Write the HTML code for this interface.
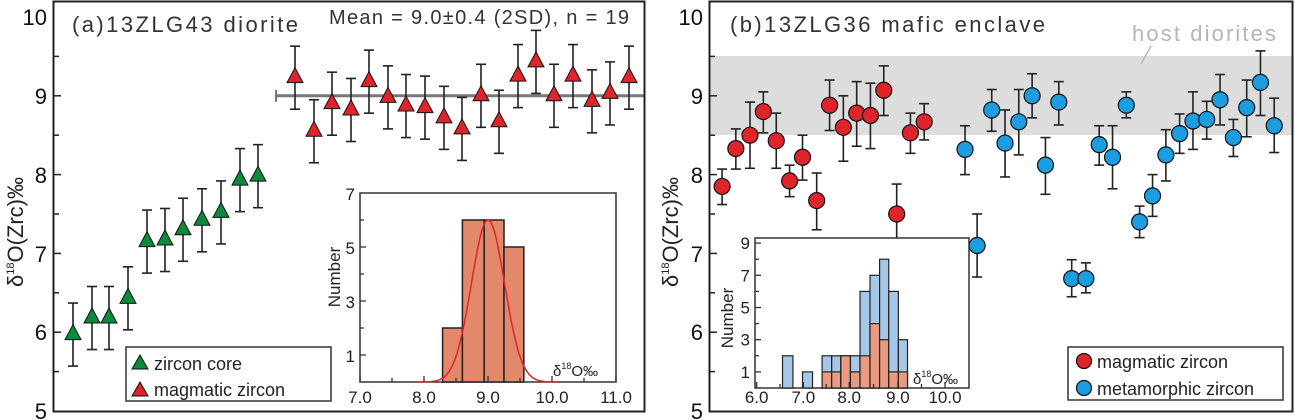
<!DOCTYPE html>
<html><head><meta charset="utf-8"><style>
html,body{margin:0;padding:0;background:#fff;}
svg{display:block;font-family:"Liberation Sans",sans-serif;}
</style></head><body>
<svg id="s" width="1295" height="419" viewBox="0 0 1295 419" xmlns="http://www.w3.org/2000/svg">
<rect width="1295" height="419" fill="#fff"/>
<rect x="710" y="56" width="583" height="79" fill="#dcdddc"/>
<line x1="1151" y1="46" x2="1141" y2="64" stroke="#b8b8b8" stroke-width="1.5"/>
<text x="1132" y="41" font-size="22" fill="#b5b5b5" textLength="144">host diorites</text>
<g id="g"></g>
<rect x="53.5" y="1.5" width="591" height="410" fill="none" stroke="#222" stroke-width="2"/>
<rect x="709.5" y="1.5" width="583" height="410" fill="none" stroke="#222" stroke-width="2"/>
<text x="72" y="32" font-size="22" fill="#333" textLength="226">(a)13ZLG43 diorite</text>
<text x="329" y="24" font-size="20" fill="#333" textLength="300">Mean = 9.0±0.4 (2SD), n = 19</text>
<text x="730" y="32" font-size="22" fill="#333" textLength="315">(b)13ZLG36 mafic enclave</text>
<g font-size="22" fill="#111" text-anchor="end">
<text x="47" y="25">10</text><text x="47" y="104">9</text><text x="47" y="183">8</text><text x="47" y="262">7</text><text x="47" y="340">6</text><text x="47" y="419">5</text>
<text x="703" y="25">10</text><text x="703" y="104">9</text><text x="703" y="183">8</text><text x="703" y="262">7</text><text x="703" y="340">6</text><text x="703" y="419">5</text>
</g>
<text transform="translate(23,232) rotate(-90)" font-size="22" fill="#222" text-anchor="middle">δ<tspan font-size="11" dy="-9">18</tspan><tspan dy="9">O(Zrc)‰</tspan></text>
<text transform="translate(678,232) rotate(-90)" font-size="22" fill="#222" text-anchor="middle">δ<tspan font-size="11" dy="-9">18</tspan><tspan dy="9">O(Zrc)‰</tspan></text>
<rect x="126" y="347" width="205" height="54" fill="#fff" stroke="#333" stroke-width="1.5"/>
<polygon points="140,355 132,369 148,369" fill="#0a8a3c" stroke="#111" stroke-width="1"/>
<polygon points="140,382 132,396 148,396" fill="#e0242b" stroke="#111" stroke-width="1"/>
<text x="154" y="370" font-size="18" fill="#222">zircon core</text>
<text x="154" y="396" font-size="18" fill="#222">magmatic zircon</text>
<rect x="1068" y="347" width="215" height="53" fill="#fff" stroke="#333" stroke-width="1.5"/>
<circle cx="1084" cy="361" r="7.5" fill="#e0242b" stroke="#111" stroke-width="1.2"/>
<circle cx="1084" cy="388" r="7.5" fill="#1b9de0" stroke="#111" stroke-width="1.2"/>
<text x="1097" y="368" font-size="18" fill="#222">magmatic zircon</text>
<text x="1097" y="395" font-size="18" fill="#222">metamorphic zircon</text>
</svg>
<script>
var g=document.getElementById('g'),h='';
function Y(v){return 17+(10-v)*78.8;}
[[54,1],[710,1]].forEach(function(a){for(var v=5.5;v<10;v+=0.5){var w=(v%1==0)?7:5;h+='<line x1="'+a[0]+'" x2="'+(a[0]+w)+'" y1="'+Y(v)+'" y2="'+Y(v)+'" stroke="#222" stroke-width="1.5"/>';}});
function eb(x,lo,hi){h+='<line x1="'+x+'" x2="'+x+'" y1="'+Y(hi)+'" y2="'+Y(lo)+'" stroke="#222" stroke-width="1.6"/><line x1="'+(x-5)+'" x2="'+(x+5)+'" y1="'+Y(hi)+'" y2="'+Y(hi)+'" stroke="#222" stroke-width="1.6"/><line x1="'+(x-5)+'" x2="'+(x+5)+'" y1="'+Y(lo)+'" y2="'+Y(lo)+'" stroke="#222" stroke-width="1.6"/>';}
function tri(x,v,c){var y=Y(v);h+='<polygon points="'+x+','+(y-10)+' '+(x-8)+','+(y+5)+' '+(x+8)+','+(y+5)+'" fill="'+c+'" stroke="#111" stroke-width="1"/>';}
h+='<line x1="276" x2="645" y1="'+Y(9)+'" y2="'+Y(9)+'" stroke="#777" stroke-width="3"/><line x1="276" x2="276" y1="'+(Y(9)-6)+'" y2="'+(Y(9)+6)+'" stroke="#777" stroke-width="2"/>';
var gx=[73,92,109,128,147,165,183,202,221,240,258],gv=[5.97,6.18,6.18,6.43,7.15,7.17,7.3,7.42,7.52,7.93,7.98];
gx.forEach(function(x,i){eb(x,gv[i]-0.4,gv[i]+0.4);tri(x,gv[i],'#0a8a3c');});
var rx=[295,314,332,351,369,388,406,425,444,462,481,499,518,536,554,573,592,610,629],rv=[9.23,8.55,8.9,8.82,9.18,8.98,8.87,8.85,8.72,8.58,9.0,8.67,9.25,9.43,9.0,9.25,8.93,9.03,9.23];
rx.forEach(function(x,i){eb(x,rv[i]-0.4,rv[i]+0.4);tri(x,rv[i],'#e0242b');});
var R=[[185,7.85,7.62,8.07],[218,8.33,8.07,8.58],[252,8.5,8.08,8.92],[284,8.8,8.53,9.05],[315,8.43,8.08,8.78],[347,7.92,7.72,8.12],[378,8.22,7.93,8.5],[412,7.67,7.3,8.02],[443,8.88,8.56,9.2],[476,8.6,8.17,9.0],[508,8.78,8.36,9.18],[541,8.75,8.33,9.16],[573,9.07,8.75,9.38],[604,7.5,7.12,7.88],[637,8.53,8.27,8.78],[670,8.67,8.44,8.9]];
var B=[[768,8.32,8.0,8.62],[797,7.1,6.7,7.5],[832,8.82,8.55,9.08],[864,8.4,7.97,8.82],[897,8.67,8.25,9.08],[929,9.0,8.72,9.28],[961,8.12,7.75,8.47],[993,8.92,8.63,9.18],[1024,6.68,6.45,6.92],[1058,6.68,6.5,6.88],[1090,8.38,8.12,8.62],[1122,8.22,7.82,8.62],[1155,8.88,8.72,9.05],[1187,7.4,7.2,7.6],[1218,7.73,7.47,8.0],[1250,8.25,7.92,8.57],[1283,8.52,8.27,8.77],[1315,8.68,8.32,9.05],[1348,8.7,8.45,8.93],[1380,8.95,8.63,9.27],[1412,8.47,8.23,8.7],[1444,8.85,8.48,9.2],[1477,9.17,8.75,9.57],[1510,8.62,8.28,8.97]];
function cir(d,c){var x=d[0]*0.4167+645;eb(x,d[2],d[3]);h+='<circle cx="'+x+'" cy="'+Y(d[1])+'" r="8" fill="'+c+'" stroke="#111" stroke-width="1.2"/>';}
R.forEach(function(d){cir(d,'#e0242b');});B.forEach(function(d){cir(d,'#1b9de0');});
h+='<rect x="360" y="193" width="256" height="189" fill="#fff" stroke="#333" stroke-width="1.5"/>';
function IX(v){return 360+(v-7)*64;}function IY(c){return 382-c*27;}
[[8.29,8.6,2],[8.6,8.94,6],[8.94,9.25,6],[9.25,9.56,5]].forEach(function(b){h+='<rect x="'+IX(b[0])+'" y="'+IY(b[2])+'" width="'+(IX(b[1])-IX(b[0]))+'" height="'+(b[2]*27)+'" fill="#e4886b" stroke="#222" stroke-width="1.5"/>';});
var p='';for(var v=7.9;v<=10.1;v+=0.02){p+=(p?'L':'M')+IX(v).toFixed(1)+','+IY(6*Math.exp(-Math.pow(v-9,2)/(2*0.26*0.26))).toFixed(1);}
h+='<path d="'+p+'" fill="none" stroke="#e0242b" stroke-width="1.5"/>';
for(var v=7;v<=11;v+=0.5){h+='<line x1="'+IX(v)+'" x2="'+IX(v)+'" y1="382" y2="'+(v%1==0?376:378)+'" stroke="#333" stroke-width="1.3"/>';}
for(var c=1;c<7;c++){h+='<line x1="360" x2="'+(c%2?366:364)+'" y1="'+IY(c)+'" y2="'+IY(c)+'" stroke="#333" stroke-width="1.3"/>';}
['7.0','8.0','9.0','10.0','11.0'].forEach(function(t,i){h+='<text x="'+IX(7+i)+'" y="403" font-size="17" fill="#222" text-anchor="middle">'+t+'</text>';});
[1,3,5,7].forEach(function(c){h+='<text x="355" y="'+(IY(c)+7)+'" font-size="17" fill="#222" text-anchor="end">'+c+'</text>';});
h+='<text transform="translate(340,277) rotate(-90)" font-size="17" fill="#222" text-anchor="middle">Number</text>';
h+='<text x="553" y="376" font-size="15" fill="#222">δ<tspan font-size="9" dy="-7">18</tspan><tspan dy="7">O‰</tspan></text>';
h+='<rect x="755" y="238" width="214" height="150" fill="#fff" stroke="#333" stroke-width="1.5"/>';
function BX(z){return z*0.4167+645;}function BY(c){return 388-c*16.1;}
var bins=[[330,355,2,0],[378,402,1,0],[425,448,2,1],[448,470,2,1],[470,493,2,2],[493,516,2,1],[516,540,6,2],[540,563,7,4],[563,585,8,3],[585,608,6,1],[608,630,3,1]];
bins.forEach(function(b){var x=BX(b[0]),w=BX(b[1])-x;h+='<rect x="'+x+'" y="'+BY(b[2])+'" width="'+w+'" height="'+(b[2]*16.1)+'" fill="#a6c8e8" stroke="#222" stroke-width="1.2"/>';if(b[3])h+='<rect x="'+x+'" y="'+BY(b[3])+'" width="'+w+'" height="'+(b[3]*16.1)+'" fill="#e99a80" stroke="#222" stroke-width="1.2"/>';});
var tx=[268,380,490,607,720];['6.0','7.0','8.0','9.0','10.0'].forEach(function(t,i){h+='<text x="'+BX(tx[i])+'" y="403" font-size="17" fill="#222" text-anchor="middle">'+t+'</text>';h+='<line x1="'+BX(tx[i])+'" x2="'+BX(tx[i])+'" y1="388" y2="382" stroke="#333" stroke-width="1.3"/>';});
for(var i=0;i<4;i++){var xm=BX((tx[i]+tx[i+1])/2);h+='<line x1="'+xm+'" x2="'+xm+'" y1="388" y2="384" stroke="#333" stroke-width="1.3"/>';}
for(var c=1;c<=9;c++){h+='<line x1="755" x2="'+(c%2?761:759)+'" y1="'+BY(c)+'" y2="'+BY(c)+'" stroke="#333" stroke-width="1.3"/>';}
[1,3,5,7,9].forEach(function(c){h+='<text x="750" y="'+(BY(c)+6)+'" font-size="17" fill="#222" text-anchor="end">'+c+'</text>';});
h+='<text transform="translate(733,318) rotate(-90)" font-size="17" fill="#222" text-anchor="middle">Number</text>';
h+='<text x="913" y="384" font-size="15" fill="#222">δ<tspan font-size="9" dy="-7">18</tspan><tspan dy="7">O‰</tspan></text>';
g.innerHTML=h;
</script>
</body></html>
